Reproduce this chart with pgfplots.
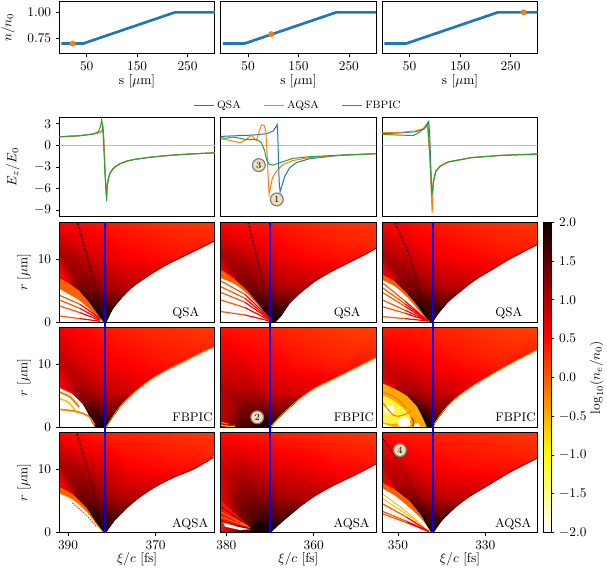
\documentclass[border=0pt]{standalone}
\usepackage{pgfplots}
\usepackage{pgfplotstable}
\pgfplotsset{compat=1.18}

\definecolor{C0}{HTML}{1F77B4}
\definecolor{C1}{HTML}{FF7F0E}
\definecolor{C2}{HTML}{2CA02C}
\definecolor{wheat}{RGB}{240,222,184}
\definecolor{band}{RGB}{255,95,0}
\definecolor{lineo}{RGB}{255,120,0}
\definecolor{liney}{RGB}{255,190,0}
\definecolor{dkred}{RGB}{130,0,0}
\definecolor{saw}{RGB}{90,0,0}

% fan meshes round the wake vertex: x r and one colour column per code
\pgfplotstableread{
x r q f a
381.4 0 2 2 2
383.0 0 1.9 1.9 1.9
385.1 0 1.5 1.6 1.5
388.3 0 1 1 1
392.2 0 .2 0 .2
381.4 0 2 2 2
383.0 1.05 1.9 1.9 1.9
385.1 2.45 1.7 1.6 1.7
388.3 4.55 1.3 1.2 1.3
392.2 7 .2 .5 .2
381.4 0 2 2 2
383.0 1.65 1.9 1.8 1.9
385.1 3.85 1.5 1.4 1.6
388.3 7.15 1.2 1 1.25
392.2 11 1 .9 1
381.4 0 2 2 2
383.0 2.4 1.8 1.6 1.8
385.1 5.6 1.35 1.1 1.4
388.3 10.4 1 .8 1.05
392.2 16 .55 .6 .5
381.4 0 2 2 2
382.4 2.4 1.75 1.5 1.75
383.7 5.6 1.25 1 1.3
385.6 10.4 .85 .7 .9
387.9 16 .5 .5 .45
381.4 0 2 2 2
381.4 2.4 1.7 1.4 1.7
381.4 5.6 1.1 .9 1.15
381.4 10.4 .7 .6 .75
381.4 16 .4 .4 .35
381.4 0 2 2 2
379.9 2.4 1.6 1.4 1.6
377.9 5.6 1 .85 1
374.9 10.4 .55 .5 .55
371.4 16 .3 .3 .3
381.4 0 2 2 2
377.65 2.4 1.7 1.6 1.7
372.65 5.6 .95 .75 .95
365.15 10.4 .45 .4 .45
356.4 16 .2 .2 .2
381.4 0 2 2 2
377.65 1.9 1.9 1.8 1.9
372.65 4.4 1.2 .95 1.2
365.15 8.1 .6 .5 .6
356.4 12.5 .3 .3 .3
}\fanA

\pgfplotstableread{
x r q f a
369.2 0 2 2 2
371 0 1.9 1.9 1.9
373.4 0 1.5 1.8 1.7
377.1 0 1 1.6 1.3
381.4 0 .2 .9 .4
369.2 0 2 2 2
371 1.05 1.9 1.8 1.9
373.4 2.45 1.7 1.5 1.6
377.1 4.55 1.3 1.15 1.3
381.4 7 .3 .9 .7
369.2 0 2 2 2
371 1.65 1.9 1.6 1.8
373.4 3.85 1.5 1.25 1.5
377.1 7.15 1.2 .85 1.15
381.4 11 1 .7 .75
369.2 0 2 2 2
371 2.4 1.8 1.5 1.7
373.4 5.6 1.35 1 1.3
377.1 10.4 1 .7 .9
381.4 16 .5 .45 .45
369.2 0 2 2 2
370.3 2.4 1.75 1.4 1.7
371.75 5.6 1.25 .9 1.25
373.95 10.4 .85 .6 .85
376.5 16 .45 .4 .4
369.2 0 2 2 2
369.2 2.4 1.7 1.35 1.65
369.2 5.6 1.1 .85 1.15
369.2 10.4 .7 .55 .75
369.2 16 .4 .35 .35
369.2 0 2 2 2
367.8 2.4 1.6 1.35 1.55
366 5.6 1 .8 1.05
363.2 10.4 .55 .45 .65
360 16 .3 .25 .3
369.2 0 2 2 2
365.65 2.4 1.7 1.55 1.7
360.95 5.6 .95 .75 1
353.85 10.4 .45 .35 .5
345.6 16 .2 .15 .2
369.2 0 2 2 2
365.65 1.6 1.9 1.8 1.9
360.95 3.7 1.2 1.05 1.25
353.85 6.8 .6 .6 .7
345.6 10.5 .3 .3 .4
}\fanB

\pgfplotstableread{
x r q f a
342.1 0 2 2 2
343.8 0 1.9 1.9 1.9
346.2 0 1.5 1.4 1.5
349.6 0 1 .6 1
353.8 0 .2 -.3 .2
342.1 0 2 2 2
343.8 1.05 1.9 1.9 1.9
346.2 2.45 1.7 1.7 1.7
349.6 4.55 1.3 1.2 1.3
353.8 7 .2 .8 .2
342.1 0 2 2 2
343.8 1.65 1.9 1.85 1.9
346.2 3.85 1.5 1.4 1.5
349.6 7.15 1.2 .95 1.1
353.8 11 1 .75 .85
342.1 0 2 2 2
343.8 2.4 1.8 1.65 1.75
346.2 5.6 1.35 1.1 1.25
349.6 10.4 .95 .7 .85
353.8 16 .55 .4 .45
342.1 0 2 2 2
343.1 2.4 1.75 1.55 1.7
344.4 5.6 1.2 1 1.1
346.3 10.4 .8 .65 .7
348.6 16 .5 .4 .4
342.1 0 2 2 2
342.1 2.4 1.7 1.45 1.65
342.1 5.6 1.1 .9 1
342.1 10.4 .65 .55 .6
342.1 16 .4 .35 .35
342.1 0 2 2 2
340.6 2.4 1.6 1.35 1.55
338.6 5.6 1 .85 .9
335.6 10.4 .55 .45 .5
332.1 16 .3 .25 .3
342.1 0 2 2 2
338.5 2.4 1.7 1.55 1.7
333.7 5.6 .95 .75 .9
326.5 10.4 .45 .35 .45
317.9 16 .2 .15 .2
342.1 0 2 2 2
338.5 1.7 1.9 1.8 1.9
333.7 4 1.2 1.05 1.15
326.5 7.5 .6 .6 .6
317.9 11.5 .3 .3 .3
}\fanC

% wake boundaries: xi r
\pgfplotstableread{
x r
381.35 0
379.8 2.2
377.9 3.8
375.2 5.66
371.4 7.5
367.6 9.1
363.8 10.4
360 11.7
356.4 12.95
}\edgeAq
\pgfplotstableread{
x r
381.35 0
380.05 1.43
378.15 3.28
375.1 5.4
371.3 7.5
367.5 9.1
363.7 10.4
359.9 11.75
356.4 12.85
}\edgeAf
\pgfplotstableread{
x r
381.47 0
379.44 1.96
377.2 3.54
374.1 5.4
370.15 7.25
365.7 8.84
361.3 10.1
356.4 12.1
}\edgeAa
\pgfplotstableread{
x r
368.9 0
367.4 1.16
365.86 2.75
363.6 4.34
359.8 6.46
356 8.04
352.2 9.37
348.4 10.7
345.6 11.8
}\edgeBq
\pgfplotstableread{
x r
370 0
367.4 1.96
363.6 4.34
359.8 6.2
356 7.5
352.2 8.84
348.4 10.16
345.6 11.1
}\edgeBf
\pgfplotstableread{
x r
370 0
367.4 1.7
363.6 3.9
359.8 5.8
356 7.3
352.2 8.6
348.4 9.9
345.6 10.95
}\edgeBa
\pgfplotstableread{
x r
342.2 0
340.8 1.43
338.9 3
336.25 4.6
332.4 6.7
328.6 8.3
324.8 9.9
321 11.3
317.9 12.4
}\edgeCq
\pgfplotstableread{
x r
342.2 0
340.8 1.5
338.9 3.2
336.25 4.9
332.4 6.8
328.6 8.4
324.8 9.9
321 11.3
317.9 12.4
}\edgeCf
\pgfplotstableread{
x r
341.96 0
340 1.96
337.3 3.8
333.8 5.66
329.4 7.5
324.1 9.7
317.9 11.9
}\edgeCa

\newcommand{\fan}[2]{\addplot[surf,shader=interp,mesh/cols=5,point meta=explicit,forget plot] table[x=x,y=r,meta=#2] {#1};}
\newcommand{\wake}[1]{%
  \addplot[smooth,fill=white,draw=none,forget plot] table[x=x,y=r] {#1} \closedcycle;
  \addplot[smooth,dkred,line width=.7pt,forget plot] table[x=x,y=r] {#1};
  \addplot[smooth,black,line width=.7pt,forget plot,skip coords between index={3}{20}] table[x=x,y=r] {#1};}
% a density streak running to the vertex, orange at the open end and red near it
\newcommand{\streak}[6]{\addplot[mesh,line width=.9pt,point meta=explicit,forget plot] coordinates {(#1,#2) [-.1] (#3,#4) [.15] (#5,#6) [.9]};}
\newcommand{\plab}[3]{\node[font=\fontsize{9.4}{10}\selectfont] at (rel axis cs:#2,#3) {#1};}
\newcommand{\circn}[2]{\node[circle,fill=wheat,draw=gray,line width=.9pt,inner sep=0pt,minimum size=9.6pt,font=\fontsize{7}{7}\selectfont] at (#1) {#2};}

\pgfplotsset{
  colormap={hotr}{rgb255(0)=(255,255,255) rgb255(254)=(255,255,0) rgb255(635)=(255,0,0) rgb255(1000)=(10,0,0)},
  base/.style={scale only axis,width=116.6pt,anchor=south west,
    axis line style={line width=.85pt},tick style={black,line width=.6pt},
    major tick length=2.6pt,tick align=outside,xtick pos=bottom,ytick pos=left,
    clip=true},
  toprow/.style={base,height=38.85pt,xmin=-4.3,xmax=304,ymin=.606,ymax=1.104,
    xtick={50,150,250},xlabel={s [$\mu$m]},
    xlabel style={at={(axis description cs:.5,-.53)},anchor=center},
    ytick={.75,1},
    yticklabel style={/pgf/number format/fixed,/pgf/number format/zerofill,/pgf/number format/precision=2}},
  erow/.style={base,height=74.6pt,ymin=-9.93,ymax=3.93,x dir=reverse,xtick=\empty,ytick={-9,-6,-3,0,3}},
  heat/.style={base,axis on top,height=75pt,ymin=0,ymax=15.87,x dir=reverse,ytick={0,10},
    colormap name=hotr,point meta min=-2,point meta max=2},
  nolabel/.style={yticklabels={},ytick=\empty},
  rlabel/.style={ylabel={$r$ [$\mu$m]},ylabel style={at={(axis description cs:-.227,.5)},anchor=center}},
  xiaxis/.style={xlabel={$\xi/c$ [fs]},xlabel style={at={(axis description cs:.5,-.263)},anchor=center}},
}

\begin{document}
\begin{tikzpicture}
\useasboundingbox (0,0) rectangle (455.25pt,426pt);

% density ramp row
\begin{axis}[toprow,at={(44.48pt,386pt)},
  ylabel={$n/n_0$},ylabel style={at={(axis description cs:-.33,.5)},anchor=center}]
\addplot[C0,line width=2pt] coordinates {(0,.7)(43,.7)(225,1)(304,1)};
\addplot[only marks,mark=*,mark size=2pt,C1] coordinates {(22,.7)};
\end{axis}
\begin{axis}[toprow,at={(165.5pt,386pt)},nolabel]
\addplot[C0,line width=2pt] coordinates {(0,.7)(43,.7)(225,1)(304,1)};
\addplot[only marks,mark=*,mark size=2pt,C1] coordinates {(96,.79)};
\end{axis}
\begin{axis}[toprow,at={(286.7pt,386pt)},nolabel]
\addplot[C0,line width=2pt] coordinates {(0,.7)(43,.7)(225,1)(304,1)};
\addplot[only marks,mark=*,mark size=2pt,C1] coordinates {(276,1)};
\end{axis}

% field row
\begin{axis}[erow,at={(44.48pt,263.5pt)},xmin=356.5,xmax=392,
  ylabel={$E_z/E_0$},ylabel style={at={(axis description cs:-.297,.5)},anchor=center}]
\addplot[gray!50,line width=1.3pt] coordinates {(392,0)(356.5,0)};
\addplot[C0,line width=.75pt] coordinates {(392,1.2)(387.3,1.35)(384.2,1.6)(383.1,1.75)(382.3,2)(382,2.4)(381.85,1)(381.6,-3)(381.4,-5.5)(381.27,-6.1)(381,-5.2)(380.74,-4.5)(380.43,-3.9)(379.8,-3.3)(379.3,-3)(378.15,-2.55)(376.6,-2.2)(375.1,-1.98)(371.3,-1.65)(367.5,-1.42)(362.9,-1.22)(356.46,-1.03)};
\addplot[C1,line width=.75pt] coordinates {(392,1.2)(387.3,1.35)(384.2,1.6)(383.1,1.75)(382.3,1.95)(382.05,2.1)(381.85,.8)(381.6,-3.2)(381.4,-5.7)(381.22,-6.25)(381,-5.2)(380.74,-4.5)(380.43,-3.9)(379.8,-3.3)(379.3,-3)(378.15,-2.55)(376.6,-2.2)(375.1,-1.98)(371.3,-1.65)(367.5,-1.42)(362.9,-1.22)(356.46,-1.03)};
\addplot[C2,line width=.75pt] coordinates {(392,1.2)(387.3,1.35)(384.2,1.6)(383.1,1.9)(382.6,2.6)(382.33,3.6)(382.1,2.6)(381.85,0)(381.6,-3.4)(381.35,-6.5)(381.19,-7.8)(381,-5.6)(380.74,-4.5)(380.43,-3.9)(379.8,-3.3)(379.3,-3)(378.15,-2.55)(376.6,-2.2)(375.1,-1.98)(371.3,-1.65)(367.5,-1.42)(362.9,-1.22)(356.46,-1.03)};
\end{axis}
\begin{axis}[erow,at={(165.5pt,263.5pt)},xmin=345.7,xmax=381.3,nolabel,
  legend columns=3,legend style={at={(.5,1.01)},anchor=south,draw=none,fill=none,
    font=\fontsize{8}{9}\selectfont,/tikz/every even column/.append style={column sep=15pt}},
  legend image post style={xscale=.88}]
\addplot[gray!50,line width=1.3pt,forget plot] coordinates {(381.3,0)(345.7,0)};
\addplot[C0,line width=.75pt] coordinates {(381.46,1.25)(373.85,1.44)(370.8,1.63)(369.28,2)(368.67,2.56)(368.37,2.93)(368.22,1.5)(368.07,-1.7)(367.91,-5)(367.69,-6.46)(367.3,-5.7)(366.62,-4.3)(365.48,-3.1)(363.96,-2.4)(360.9,-1.85)(354.06,-1.4)(345.7,-1.15)};
\addplot[C1,line width=.75pt] coordinates {(381.46,.93)(379.2,.7)(376.9,.37)(375.75,.7)(374.2,1.44)(373.47,.84)(373.09,.7)(372.5,1.9)(371.95,2.84)(371.35,2.8)(370.96,2)(370.65,-1.26)(370.42,-4.5)(370.2,-6.84)(369.9,-5.9)(369.44,-4.5)(368.5,-3.6)(367,-2.65)(364.7,-2.1)(360.9,-1.7)(354.06,-1.38)(345.7,-1.15)};
\addplot[C2,line width=.75pt] coordinates {(381.46,1.07)(379.94,1)(378.42,1.16)(376.9,1)(375.37,.8)(373.09,.84)(371.95,.37)(371.2,-.8)(370.8,-1.95)(370.2,-2.65)(369.28,-2.74)(367.76,-2.4)(364.7,-1.8)(360.9,-1.58)(354.06,-1.35)(345.7,-1.15)};
\legend{QSA,AQSA,FBPIC}
\circn{axis cs:368.45,-7.53}{1}
\circn{axis cs:372.56,-2.75}{3}
\end{axis}
\begin{axis}[erow,at={(286.7pt,263.5pt)},xmin=318,xmax=353.6,nolabel]
\addplot[gray!50,line width=1.3pt] coordinates {(353.6,0)(318,0)};
\addplot[C0,line width=.75pt] coordinates {(353.67,1.63)(349.86,1.72)(346.06,1.9)(344.16,2.23)(343.4,2.7)(342.94,3.3)(342.71,1.07)(342.56,-1.7)(342.25,-6.84)(341.87,-5)(341.34,-3.6)(340.35,-2.9)(338.45,-2.3)(333.12,-1.7)(326.7,-1.4)(318,-1.2)};
\addplot[C1,line width=.75pt] coordinates {(353.67,1.77)(349.86,1.8)(346.06,2)(344.16,2.37)(343.55,2.9)(343.2,2.4)(342.71,-1.7)(342.4,-6)(342.18,-9.4)(342.03,-7)(341.87,-5)(341.34,-3.6)(340.35,-2.9)(338.45,-2.3)(333.12,-1.7)(326.7,-1.4)(318,-1.2)};
\addplot[C2,line width=.75pt] coordinates {(353.67,1.53)(349.86,1.44)(347.6,1.4)(346.4,1.4)(345.3,1.77)(343.8,2.46)(343.17,3.2)(342.63,-2.2)(342.25,-7)(341.87,-5)(341.34,-3.6)(340.35,-2.9)(338.45,-2.3)(333.12,-1.7)(326.7,-1.4)(318,-1.2)};
\end{axis}

% QSA row
\begin{axis}[heat,rlabel,at={(44.48pt,184.3pt)},xmin=356.5,xmax=392,xtick=\empty]
\fan{\fanA}{q}
\addplot[smooth,band,fill=band,draw=none,forget plot] coordinates {(392,7.25)(389.6,6.3)(387.3,5.13)(385,3.28)(383.1,1.43)(381.5,0)} \closedcycle;
\addplot[smooth,fill=white,draw=none,forget plot] coordinates {(392,5.3)(389.6,4.34)(387.3,3.39)(385,1.96)(382.7,.37)(382,0)} \closedcycle;
\addplot[mesh,line width=1.4pt,point meta=explicit,forget plot] coordinates {(392,7.25) [.4] (389.6,6.3) [.9] (387.3,5.13) [1.5] (385,3.28) [1.9] (383.1,1.43) [2] (381.5,0) [2]};
\streak{392}{1}{387.3}{.58}{382.7}{.16}
\streak{392}{2.6}{387.3}{1.53}{382.7}{.32}
\streak{392}{3.55}{387.3}{2.2}{382.7}{.48}
\streak{392}{4.3}{387.3}{2.86}{382.7}{.63}
\addplot[saw,line width=1.5pt,dash pattern=on 1.6pt off 1.2pt,forget plot] coordinates {(381.4,0)(384.6,8)(387.9,15.87)};
\wake{\edgeAq}
\plab{QSA}{.814}{.09}
\end{axis}
\begin{axis}[heat,nolabel,at={(165.5pt,184.3pt)},xmin=345.7,xmax=381.3,xtick=\empty]
\fan{\fanB}{q}
\addplot[smooth,fill=band,draw=none,forget plot] coordinates {(381.3,8.57)(378,7)(375,5.13)(371.9,2.5)(369.7,.37)(369.4,0)} \closedcycle;
\addplot[smooth,fill=white,draw=none,forget plot] coordinates {(381.3,7)(378,6)(375,4.34)(371.9,1.96)(369.7,.1)(369.6,0)} \closedcycle;
\addplot[mesh,line width=1.4pt,point meta=explicit,forget plot] coordinates {(381.3,8.57) [.4] (378,7) [1] (375,5.13) [1.5] (371.9,2.5) [1.9] (369.7,.37) [2] (369.4,0) [2]};
\streak{381.3}{1.7}{375.75}{1.16}{370.04}{.2}
\streak{381.3}{3.55}{375.75}{2.33}{370.04}{.3}
\streak{381.3}{4.76}{375.75}{3.17}{370.04}{.42}
\streak{381.3}{5.66}{375.75}{3.8}{370.04}{.5}
\streak{381.3}{6.56}{375.75}{4.44}{370.04}{.63}
\addplot[saw,line width=1.5pt,dash pattern=on 1.6pt off 1.2pt,forget plot] coordinates {(369.5,0)(372.2,8)(375,15.87)};
\wake{\edgeBq}
\plab{QSA}{.814}{.09}
\end{axis}
\begin{axis}[heat,nolabel,at={(286.7pt,184.3pt)},xmin=318,xmax=353.6,xtick=\empty]
\fan{\fanC}{q}
\addplot[smooth,fill=band,draw=none,forget plot] coordinates {(353.6,7.78)(350.7,6.7)(347.66,4.6)(345.4,2.75)(343.5,.9)(342.4,.1)(342.2,0)} \closedcycle;
\addplot[smooth,fill=white,draw=none,forget plot] coordinates {(353.6,6.7)(350.7,5.66)(347.66,3.8)(345.4,1.96)(343.5,.53)(342.7,0)} \closedcycle;
\addplot[mesh,line width=1.4pt,point meta=explicit,forget plot] coordinates {(353.6,7.78) [.4] (350.7,6.7) [1] (347.66,4.6) [1.6] (345.4,2.75) [1.9] (343.5,.9) [2] (342.2,0) [2]};
\streak{353.6}{.9}{348.35}{.58}{343.1}{.2}
\streak{353.6}{2.49}{348.35}{1.43}{343.1}{.2}
\streak{353.6}{3.55}{348.35}{1.9}{343.1}{.2}
\streak{353.6}{4.76}{348.35}{2.49}{343.1}{.2}
\streak{353.6}{5.5}{348.35}{2.9}{343.1}{.2}
\streak{353.6}{6.3}{348.35}{3.33}{343.1}{.2}
\addplot[saw,line width=1.5pt,dash pattern=on 1.6pt off 1.2pt,forget plot] coordinates {(342.2,0)(344.6,4.3)(347.7,11.2)(350.7,15.87)};
\wake{\edgeCq}
\plab{QSA}{.814}{.09}
\end{axis}

% FBPIC row
\begin{axis}[heat,rlabel,at={(44.48pt,105.5pt)},xmin=356.5,xmax=392,xtick=\empty]
\fan{\fanA}{f}
\addplot[smooth,fill=white,draw=none,forget plot] coordinates {(392,6.45)(388.8,5.4)(386.5,3.8)(385.4,2.5)(384.2,.63)(383.5,0)} \closedcycle;
\addplot[mesh,line width=1.4pt,point meta=explicit,forget plot] coordinates {(392,6.45) [.3] (388.8,5.4) [.7] (386.5,3.8) [1.3] (385.4,2.5) [1.7] (384.2,.63) [2] (383.5,0) [2]};
\addplot[smooth,lineo,line width=1.4pt,forget plot] coordinates {(392,5.6)(389.5,4.8)(387.5,3.2)};
\addplot[smooth,liney,line width=1.2pt,forget plot] coordinates {(392,4.6)(389.8,3.9)(388.2,2.5)(387.6,2.4)};
\addplot[smooth,lineo,line width=1.2pt,forget plot] coordinates {(392,2.85)(388,2.5)(385.2,1.7)(383.9,.3)};
\wake{\edgeAf}
\addplot[smooth,liney,line width=.5pt,forget plot] table[x=x,y=r] {\edgeAf};
\plab{FBPIC}{.857}{.097}
\end{axis}
\begin{axis}[heat,nolabel,at={(165.5pt,105.5pt)},xmin=345.7,xmax=381.3,xtick=\empty]
\fan{\fanB}{f}
\addplot[liney,line width=.9pt,forget plot] coordinates {(381.3,.35)(379.5,.15)(378,.2)};
\addplot[lineo,line width=.9pt,forget plot] coordinates {(381.3,.8)(379.5,.5)};
\wake{\edgeBf}
\addplot[smooth,liney,line width=.5pt,forget plot] table[x=x,y=r] {\edgeBf};
\plab{FBPIC}{.857}{.097}
\circn{axis cs:372.94,1.6}{2}
\end{axis}
\begin{axis}[heat,nolabel,at={(286.7pt,105.5pt)},xmin=318,xmax=353.6,xtick=\empty]
\fan{\fanC}{f}
\addplot[smooth,fill={rgb,255:red,255;green,170;blue,0},draw=none,forget plot] coordinates {(353.6,7)(350.7,6.1)(347.7,4.9)(345.4,3.2)(343.9,1.2)(343.1,0)} \closedcycle;
\addplot[mesh,line width=1.6pt,point meta=explicit,forget plot] coordinates {(353.6,7.3) [.4] (350.7,6.4) [.8] (347.7,5.1) [1.3] (345.4,3.4) [1.8] (343.9,1.3) [2] (343.1,0) [2]};
\addplot[smooth cycle,fill=yellow!75!white,draw=none,forget plot] coordinates {(353.6,4.8)(351,4.2)(348.5,2.8)(347,1.2)(349.5,.6)(353.6,1)};
\addplot[fill=white,draw=none,forget plot,smooth cycle] coordinates {(353.2,2.86)(352.6,3.44)(351.5,3.44)(350.7,2.86)(351.5,2.22)(352.6,2.22)};
\addplot[fill=white,draw=none,forget plot,smooth cycle] coordinates {(349.9,.2)(349.55,1.43)(348.4,1.7)(347.4,1.16)(347.3,.2)};
\addplot[fill=white,draw=none,forget plot,smooth cycle] coordinates {(346.5,.1)(346.1,.63)(345.4,.63)(345,.1)};
\addplot[fill=white,draw=none,forget plot] coordinates {(353.7,.63)(351,.05)(353.7,.05)(353.7,.63)};
\addplot[smooth,lineo,line width=.9pt,forget plot] coordinates {(353.6,5.6)(350.5,4.7)(348,3)};
\addplot[smooth,lineo,line width=.8pt,forget plot] coordinates {(353.6,4)(351,1.9)(349,1.9)(347,2.6)};
\addplot[smooth,red!80!orange,line width=.9pt,forget plot] coordinates {(347,1.6)(346.4,.9)(346.6,.1)};
\wake{\edgeCf}
\addplot[smooth,liney,line width=.5pt,forget plot] table[x=x,y=r] {\edgeCf};
\plab{FBPIC}{.857}{.097}
\end{axis}

% AQSA row
\begin{axis}[heat,rlabel,xiaxis,at={(44.48pt,26.5pt)},xmin=356.5,xmax=392,xtick={390,370}]
\fan{\fanA}{a}
\addplot[smooth,fill=band,draw=none,forget plot] coordinates {(392,7.5)(388.7,6.2)(385.6,4.07)(383.4,1.7)(382.1,.37)(381.5,0)} \closedcycle;
\addplot[smooth,fill=white,draw=none,forget plot] coordinates {(392,6.2)(388.7,5.13)(385.6,3.17)(383.4,1.16)(382.1,.1)(382,0)} \closedcycle;
\addplot[mesh,line width=1.4pt,point meta=explicit,forget plot] coordinates {(392,7.5) [.5] (388.7,6.2) [1] (385.6,4.07) [1.6] (383.4,1.7) [2] (381.5,0) [2]};
\addplot[smooth,liney,line width=.7pt,dash pattern=on 1pt off .8pt,forget plot] coordinates {(392,6.2)(388.7,5.13)(385.6,3.17)(383.4,1.16)(382.1,.1)};
\addplot[smooth,red,line width=.6pt,dash pattern=on 1pt off 1pt,forget plot] coordinates {(389,4.7)(386,2.9)(383.6,1)};
\addplot[saw,line width=1.3pt,dash pattern=on 1.6pt off 1.2pt,forget plot] coordinates {(381.5,0)(384.7,8)(388,15.87)};
\wake{\edgeAa}
\plab{AQSA}{.842}{.085}
\end{axis}
\begin{axis}[heat,nolabel,xiaxis,at={(165.5pt,26.5pt)},xmin=345.7,xmax=381.3,xtick={380,360}]
\fan{\fanB}{a}
\addplot[fill=red!85!orange,draw=none,forget plot] coordinates {(381.4,5.2)(378,3)(375,1.2)(381.4,.9)(381.4,5.2)};
\addplot[red!55!black,line width=.6pt,forget plot] coordinates {(381.3,4.1)(375,1.2)};
\addplot[lineo,line width=.7pt,forget plot] coordinates {(381.3,3.3)(375,1)};
\addplot[lineo,line width=.7pt,forget plot] coordinates {(381.3,2.5)(374.6,.8)};
\addplot[red!70!black,line width=.7pt,forget plot] coordinates {(381.3,1.9)(375,.8)};
\addplot[fill=white,draw=none,forget plot] coordinates {(380.7,1.6)(377.65,.96)(374.6,.54)(376.9,.43)(380.3,.96)(380.7,1.6)};
\addplot[smooth cycle,fill={rgb,255:red,25;green,0;blue,0},draw=none,forget plot] coordinates {(374.2,0)(373.85,1.3)(372.33,1.7)(370.8,1.3)(370,0)};
\wake{\edgeBa}
\plab{AQSA}{.842}{.085}
\end{axis}
\begin{axis}[heat,nolabel,xiaxis,at={(286.7pt,26.5pt)},xmin=318,xmax=353.6,xtick={350,330}]
\fan{\fanC}{a}
\addplot[smooth,fill=band,draw=none,forget plot] coordinates {(353.6,8.15)(350.6,7)(347.1,5.13)(344.4,2.75)(342.7,.63)(342.1,0)} \closedcycle;
\addplot[smooth,fill=white,draw=none,forget plot] coordinates {(353.6,7)(350.6,5.8)(347.1,3.8)(344.4,1.96)(342.7,.37)(342.4,0)} \closedcycle;
\addplot[mesh,line width=1.4pt,point meta=explicit,forget plot] coordinates {(353.6,8.15) [.5] (350.6,7) [1] (347.1,5.13) [1.6] (344.4,2.75) [1.9] (342.7,.63) [2] (342.1,0) [2]};
\addplot[smooth,liney,line width=.7pt,forget plot] coordinates {(353.6,6.2)(348,3.3)(343,.2)};
\addplot[smooth,liney,line width=.7pt,forget plot] coordinates {(353.6,5.4)(348,2.9)(343,.2)};
\streak{353.6}{4.6}{348}{2.45}{343}{.2}
\streak{353.6}{3.4}{348}{1.8}{343}{.2}
\streak{353.6}{3}{348}{1.6}{343}{.2}
\addplot[smooth,saw,line width=.7pt,dash pattern=on 1pt off .7pt,forget plot] coordinates {(353.5,14.9)(348.85,10.2)(344.4,3.8)(342,0)};
\wake{\edgeCa}
\plab{AQSA}{.842}{.085}
\circn{axis cs:349.56,13.1}{4}
\end{axis}

% blue lines through the three density rows
\begin{axis}[scale only axis,anchor=south west,hide axis,width=116.6pt,height=232.8pt,
  at={(44.48pt,26.5pt)},x dir=reverse,xmin=356.5,xmax=392,ymin=0,ymax=1]
\addplot[blue,line width=1.5pt] coordinates {(381.5,0)(381.5,1)};
\end{axis}
\begin{axis}[scale only axis,anchor=south west,hide axis,width=116.6pt,height=232.8pt,
  at={(165.5pt,26.5pt)},x dir=reverse,xmin=345.7,xmax=381.3,ymin=0,ymax=1]
\addplot[blue,line width=1.5pt] coordinates {(370,0)(370,1)};
\end{axis}
\begin{axis}[scale only axis,anchor=south west,hide axis,width=116.6pt,height=232.8pt,
  at={(286.7pt,26.5pt)},x dir=reverse,xmin=318,xmax=353.6,ymin=0,ymax=1]
\addplot[blue,line width=1.5pt] coordinates {(342,0)(342,1)};
\end{axis}

% colour scale
\begin{axis}[scale only axis,anchor=south west,at={(407.2pt,26.5pt)},width=6pt,height=232.8pt,
  axis on top,xmin=0,xmax=1,ymin=-2,ymax=2,xtick=\empty,ytick={-2,-1.5,...,2},ytick pos=right,yticklabel pos=right,
  tick align=outside,major tick length=2.6pt,tick style={black,line width=.6pt},
  axis line style={line width=.6pt},colormap name=hotr,point meta min=-2,point meta max=2,
  yticklabel style={/pgf/number format/fixed,/pgf/number format/zerofill,/pgf/number format/precision=1},
  ylabel={$\log_{10}(n_e/n_0)$},ylabel style={at={(axis description cs:6.7,.5)},anchor=center,rotate=0}]
\addplot[surf,shader=interp,mesh/cols=2,point meta=y,forget plot] coordinates {(0,-2)(1,-2)(0,2)(1,2)};
\end{axis}
\end{tikzpicture}
\end{document}
